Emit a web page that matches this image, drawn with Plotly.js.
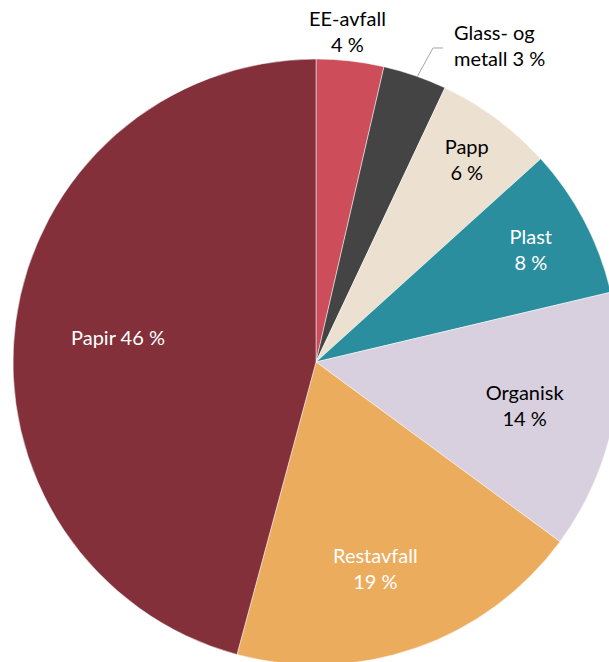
<!DOCTYPE html>
<html><head><meta charset="utf-8">
<script src="https://cdn.plot.ly/plotly-3.0.1.min.js"></script>
<style>html,body{margin:0;padding:0;overflow:hidden;background:#fff}#chart{width:632px;height:665px}</style>
</head><body><div id="chart"></div>
<script>
const categories = ["EE-avfall", "Glass- og metall", "Papp", "Plast", "Organisk", "Restavfall", "Papir"];
const shares = [3.6, 3.4, 6.3, 8.0, 13.8, 19.1, 45.8];
const shareLabels = ["4 %", "3 %", "6 %", "8 %", "14 %", "19 %", "46 %"];
const sliceColors = ["#cd4d5b", "#444444", "#ece1d0", "#2b8e9e", "#d9d0df", "#ebac5e", "#83303a"];
const textColors = ["#000000", "#000000", "#000000", "#ffffff", "#000000", "#ffffff", "#ffffff"];
// labels drawn inside the slice by the pie itself (others placed as annotations)
const insideLabel = [false, false, true, true, true, false, false];
const labelText = categories.map((c, i) => {
  if (c === "Papir") return c + " " + shareLabels[i];
  if (c === "Glass- og metall") return "Glass- og<br>metall " + shareLabels[i];
  return c + "<br>" + shareLabels[i];
});
const FONT = "Lato, 'Open Sans', sans-serif";
const FS = 20;
const trace = {
  type: "pie",
  labels: categories,
  values: shares,
  text: labelText.map((t, i) => insideLabel[i] ? t : ""),
  textinfo: "text",
  textposition: "inside",
  insidetextorientation: "horizontal",
  sort: false,
  direction: "clockwise",
  rotation: 0,
  marker: {colors: sliceColors, line: {color: "#ffffff", width: 0.5}},
  textfont: {family: FONT, size: FS, color: textColors},
  hoverinfo: "label+percent",
  showlegend: false
};
// label anchor positions (paper coords) for labels not placed by the pie
const annPos = {
  "EE-avfall": {x: 0.5512, y: 1.0454, xanchor: "center", align: "center"},
  "Glass- og metall": {x: 0.7244, y: 1.0239, xanchor: "left", align: "left"},
  "Restavfall": {x: 0.5974, y: 0.160, xanchor: "center", align: "center"},
  "Papir": {x: 0.1733, y: 0.5413, xanchor: "center", align: "center"}
};
const annotations = categories.map((c, i) => {
  if (insideLabel[i]) return null;
  const p = annPos[c];
  return {
    xref: "paper", yref: "paper", x: p.x, y: p.y, xanchor: p.xanchor, yanchor: "middle",
    align: p.align, showarrow: false, text: labelText[i],
    font: {family: FONT, size: FS, color: textColors[i]}
  };
}).filter(a => a);
const layout = {
  width: 632, height: 665,
  margin: {l: 13, r: 13, t: 59, b: 0},
  paper_bgcolor: "#ffffff",
  showlegend: false,
  annotations: annotations,
  shapes: [{
    type: "path", xref: "paper", yref: "paper",
    path: "M 0.7096 1.0182 L 0.6931 1.0182 L 0.6667 0.9703",
    line: {color: "#a6a6a6", width: 1}
  }]
};
Plotly.newPlot("chart", [trace], layout, {displayModeBar: false, staticPlot: true});
</script></body></html>
